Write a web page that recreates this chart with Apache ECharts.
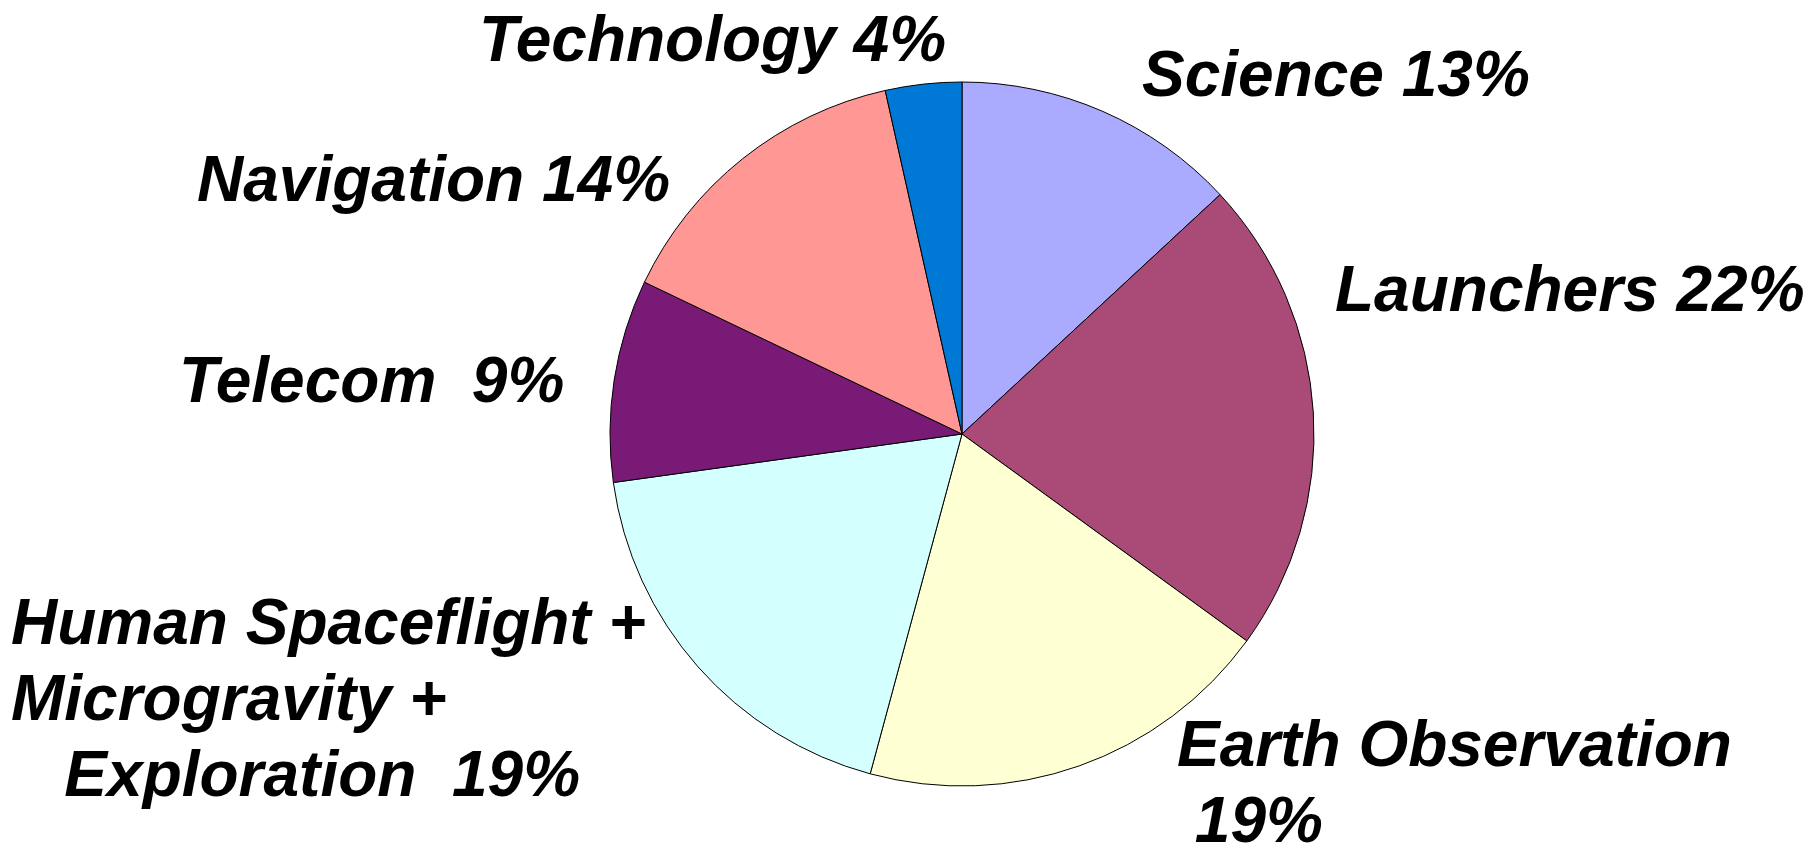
<!DOCTYPE html>
<html>
<head>
<meta charset="utf-8">
<script src="https://cdn.jsdelivr.net/npm/echarts@6/dist/echarts.min.js"></script>
<style>
html,body{margin:0;padding:0;background:#fff;}
#chart{width:1811px;height:847px;}
</style>
</head>
<body>
<div id="chart"></div>
<script>
const categories = ['Science', 'Launchers', 'Earth Observation', 'Human Spaceflight + Microgravity + Exploration', 'Telecom', 'Navigation', 'Technology'];
const shares = [13.1, 21.9, 19.2, 18.6, 9.3, 14.4, 3.5];
const labelTexts = [
  'Science 13%',
  'Launchers 22%',
  'Earth Observation\n 19%',
  'Human Spaceflight +\nMicrogravity +\n   Exploration  19%',
  'Telecom  9%',
  'Navigation 14%',
  'Technology 4%'
];
const sliceColors = ['#AAAAFF', '#A94A77', '#FFFFD4', '#D4FFFF', '#781A76', '#FF9894', '#0079D6'];

// label anchor (left, top) in pixels
const labelAnchors = [
  [1142, 40], [1335, 255], [1177, 710], [11, 588], [179, 346], [197, 145], [479, 5]
];

const chart = echarts.init(document.getElementById('chart'), null, {renderer: 'canvas'});
chart.setOption({
  animation: false,
  backgroundColor: '#ffffff',
  series: [{
    type: 'pie',
    center: [962, 434],
    radius: 352,
    startAngle: 90,
    clockwise: true,
    avoidLabelOverlap: false,
    emphasis: {disabled: true},
    itemStyle: {borderColor: '#000', borderWidth: 1},
    label: {
      show: true,
      position: 'outside',
      color: '#000',
      fontFamily: 'Liberation Sans, Arial, sans-serif',
      fontWeight: 'bold',
      fontStyle: 'italic',
      fontSize: 64,
      lineHeight: 76,
      formatter: p => labelTexts[p.dataIndex]
    },
    labelLine: {show: false},
    labelLayout: p => ({
      x: labelAnchors[p.dataIndex][0],
      y: labelAnchors[p.dataIndex][1],
      align: 'left',
      verticalAlign: 'top',
      moveOverlap: null,
      hideOverlap: false
    }),
    data: categories.map((c, i) => ({
      name: c,
      value: shares[i],
      itemStyle: {color: sliceColors[i]}
    }))
  }]
});
</script>
</body>
</html>
